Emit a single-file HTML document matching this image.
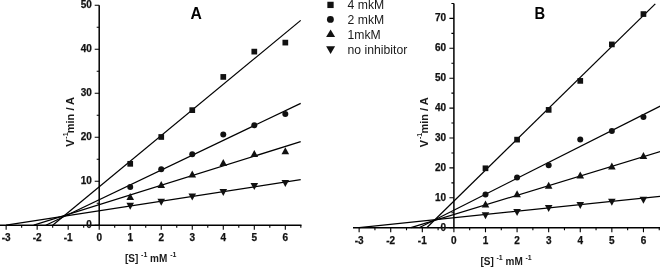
<!DOCTYPE html>
<html><head><meta charset="utf-8"><style>
html,body{margin:0;padding:0;background:#fff;}
body{width:660px;height:267px;overflow:hidden;}
svg{display:block;filter:grayscale(1);}
text{font-family:"Liberation Sans", sans-serif;fill:#000;}
.tl{font-size:10px;font-weight:bold;fill:#111;stroke:#111;stroke-width:0.25px;}
.ti{font-size:15.7px;font-weight:bold;}
.yl{font-size:11px;font-weight:bold;fill:#1a1a1a;}
.xl{font-size:10px;font-weight:bold;fill:#1a1a1a;}
.sup{font-size:7px;}
.lg{font-size:12.2px;fill:#1a1a1a;}
</style></head><body>
<svg width="660" height="267" viewBox="0 0 660 267">
<g fill="#111">
<path d="M0 225.2H301.5" stroke="#000" stroke-width="1.5" fill="none"/>
<path d="M99.2 5.2V225.2" stroke="#000" stroke-width="1.5" fill="none"/>
<path d="M6.14 225.2v4.5M37.16 225.2v4.5M68.18 225.2v4.5M99.2 225.2v4.5M130.22 225.2v4.5M161.24 225.2v4.5M192.26 225.2v4.5M223.28 225.2v4.5M254.3 225.2v4.5M285.32 225.2v4.5M21.65 225.2v2.5M52.67 225.2v2.5M83.69 225.2v2.5M114.71 225.2v2.5M145.73 225.2v2.5M176.75 225.2v2.5M207.77 225.2v2.5M238.79 225.2v2.5M269.81 225.2v2.5M300.83 225.2v2.5M99.2 225.2h-4.5M99.2 181.2h-4.5M99.2 137.2h-4.5M99.2 93.2h-4.5M99.2 49.2h-4.5M99.2 5.2h-4.5M99.2 203.2h-2.5M99.2 159.2h-2.5M99.2 115.2h-2.5M99.2 71.2h-2.5M99.2 27.2h-2.5" stroke="#000" stroke-width="1.1" fill="none"/>
<line x1="52.67" y1="225.2" x2="300.71" y2="20.38" stroke="#000" stroke-width="1.25"/>
<line x1="45.85" y1="225.2" x2="300.71" y2="103.32" stroke="#000" stroke-width="1.25"/>
<line x1="33.75" y1="225.2" x2="300.71" y2="141.6" stroke="#000" stroke-width="1.25"/>
<line x1="6.14" y1="225.2" x2="300.71" y2="179.7" stroke="#000" stroke-width="1.25"/>
<rect x="127.37" y="160.97" width="5.7" height="5.7"/>
<rect x="158.39" y="134.13" width="5.7" height="5.7"/>
<rect x="189.41" y="107.29" width="5.7" height="5.7"/>
<rect x="220.43" y="74.07" width="5.7" height="5.7"/>
<rect x="251.45" y="48.77" width="5.7" height="5.7"/>
<rect x="282.47" y="39.75" width="5.7" height="5.7"/>
<circle cx="130.22" cy="186.92" r="3"/>
<circle cx="161.24" cy="169.32" r="3"/>
<circle cx="192.26" cy="154.36" r="3"/>
<circle cx="223.28" cy="134.56" r="3"/>
<circle cx="254.3" cy="125.32" r="3"/>
<circle cx="285.32" cy="113.88" r="3"/>
<path d="M130.22 193.1L134.02 200.1L126.42 200.1Z"/>
<path d="M161.24 180.91L165.04 187.91L157.44 187.91Z"/>
<path d="M192.26 170.4L196.06 177.4L188.46 177.4Z"/>
<path d="M223.28 159L227.08 166L219.48 166Z"/>
<path d="M254.3 149.98L258.1 156.98L250.5 156.98Z"/>
<path d="M285.32 147.34L289.12 154.34L281.52 154.34Z"/>
<path d="M130.22 209.78L134.02 202.78L126.42 202.78Z"/>
<path d="M161.24 205.82L165.04 198.82L157.44 198.82Z"/>
<path d="M192.26 200.54L196.06 193.54L188.46 193.54Z"/>
<path d="M223.28 196.01L227.08 189.01L219.48 189.01Z"/>
<path d="M254.3 189.98L258.1 182.98L250.5 182.98Z"/>
<path d="M285.32 186.9L289.12 179.9L281.52 179.9Z"/>
<text x="6.14" y="241.3" text-anchor="middle" class="tl">-3</text>
<text x="37.16" y="241.3" text-anchor="middle" class="tl">-2</text>
<text x="68.18" y="241.3" text-anchor="middle" class="tl">-1</text>
<text x="99.2" y="241.3" text-anchor="middle" class="tl">0</text>
<text x="130.22" y="241.3" text-anchor="middle" class="tl">1</text>
<text x="161.24" y="241.3" text-anchor="middle" class="tl">2</text>
<text x="192.26" y="241.3" text-anchor="middle" class="tl">3</text>
<text x="223.28" y="241.3" text-anchor="middle" class="tl">4</text>
<text x="254.3" y="241.3" text-anchor="middle" class="tl">5</text>
<text x="285.32" y="241.3" text-anchor="middle" class="tl">6</text>
<text x="91.9" y="228.1" text-anchor="end" class="tl">0</text>
<text x="91.9" y="184.1" text-anchor="end" class="tl">10</text>
<text x="91.9" y="140.1" text-anchor="end" class="tl">20</text>
<text x="91.9" y="96.1" text-anchor="end" class="tl">30</text>
<text x="91.9" y="52.1" text-anchor="end" class="tl">40</text>
<text x="91.9" y="8.1" text-anchor="end" class="tl">50</text>
<text transform="translate(190.6 18.6) scale(1 1)" class="ti">A</text>
<text transform="translate(74.3 146.8) rotate(-90)" class="yl">V<tspan class="sup" dx="0.8" dy="-6">-1</tspan><tspan dx="-0.8" dy="6">min / A</tspan></text>
<text x="125" y="262.3" class="xl">[S] <tspan class="sup" dy="-5">-1</tspan><tspan dy="5"> mM </tspan><tspan class="sup" dy="-5">-1</tspan></text>
<path d="M353 227.7H660" stroke="#000" stroke-width="1.5" fill="none"/>
<path d="M453.9 3.45V227.7" stroke="#000" stroke-width="1.5" fill="none"/>
<path d="M359.13 227.7v4.5M390.72 227.7v4.5M422.31 227.7v4.5M453.9 227.7v4.5M485.49 227.7v4.5M517.08 227.7v4.5M548.67 227.7v4.5M580.26 227.7v4.5M611.85 227.7v4.5M643.44 227.7v4.5M374.92 227.7v2.5M406.51 227.7v2.5M438.1 227.7v2.5M469.69 227.7v2.5M501.28 227.7v2.5M532.88 227.7v2.5M564.46 227.7v2.5M596.05 227.7v2.5M627.64 227.7v2.5M659.24 227.7v2.5M453.9 227.7h-4.5M453.9 197.8h-4.5M453.9 167.9h-4.5M453.9 138h-4.5M453.9 108.1h-4.5M453.9 78.2h-4.5M453.9 48.3h-4.5M453.9 18.4h-4.5M453.9 212.75h-2.5M453.9 182.85h-2.5M453.9 152.95h-2.5M453.9 123.05h-2.5M453.9 93.15h-2.5M453.9 63.25h-2.5M453.9 33.35h-2.5M453.9 3.45h-2.5" stroke="#000" stroke-width="1.1" fill="none"/>
<line x1="426.73" y1="227.7" x2="655.29" y2="3.9" stroke="#000" stroke-width="1.25"/>
<line x1="419.15" y1="227.7" x2="660.5" y2="106.01" stroke="#000" stroke-width="1.25"/>
<line x1="410.94" y1="227.7" x2="660.5" y2="151.45" stroke="#000" stroke-width="1.25"/>
<line x1="359.13" y1="227.7" x2="660.5" y2="196.33" stroke="#000" stroke-width="1.25"/>
<rect x="482.64" y="165.44" width="5.7" height="5.7"/>
<rect x="514.23" y="136.79" width="5.7" height="5.7"/>
<rect x="545.82" y="107.04" width="5.7" height="5.7"/>
<rect x="577.41" y="78.04" width="5.7" height="5.7"/>
<rect x="609" y="41.56" width="5.7" height="5.7"/>
<rect x="640.59" y="11.21" width="5.7" height="5.7"/>
<circle cx="485.49" cy="194.39" r="3"/>
<circle cx="517.08" cy="177.47" r="3"/>
<circle cx="548.67" cy="165.21" r="3"/>
<circle cx="580.26" cy="139.58" r="3"/>
<circle cx="611.85" cy="131.12" r="3"/>
<circle cx="643.44" cy="116.89" r="3"/>
<path d="M485.49 200.49L489.29 207.49L481.69 207.49Z"/>
<path d="M517.08 190.2L520.88 197.2L513.28 197.2Z"/>
<path d="M548.67 181.74L552.47 188.74L544.87 188.74Z"/>
<path d="M580.26 171.58L584.06 178.58L576.46 178.58Z"/>
<path d="M611.85 162.61L615.65 169.61L608.05 169.61Z"/>
<path d="M643.44 151.99L647.24 158.99L639.64 158.99Z"/>
<path d="M485.49 219.3L489.29 212.3L481.69 212.3Z"/>
<path d="M517.08 216.01L520.88 209.01L513.28 209.01Z"/>
<path d="M548.67 211.91L552.47 204.91L544.87 204.91Z"/>
<path d="M580.26 209.07L584.06 202.07L576.46 202.07Z"/>
<path d="M611.85 205.78L615.65 198.78L608.05 198.78Z"/>
<path d="M643.44 203.69L647.24 196.69L639.64 196.69Z"/>
<text x="359.13" y="244.1" text-anchor="middle" class="tl">-3</text>
<text x="390.72" y="244.1" text-anchor="middle" class="tl">-2</text>
<text x="422.31" y="244.1" text-anchor="middle" class="tl">-1</text>
<text x="453.9" y="244.1" text-anchor="middle" class="tl">0</text>
<text x="485.49" y="244.1" text-anchor="middle" class="tl">1</text>
<text x="517.08" y="244.1" text-anchor="middle" class="tl">2</text>
<text x="548.67" y="244.1" text-anchor="middle" class="tl">3</text>
<text x="580.26" y="244.1" text-anchor="middle" class="tl">4</text>
<text x="611.85" y="244.1" text-anchor="middle" class="tl">5</text>
<text x="643.44" y="244.1" text-anchor="middle" class="tl">6</text>
<text x="446" y="230.6" text-anchor="end" class="tl">0</text>
<text x="446" y="200.7" text-anchor="end" class="tl">10</text>
<text x="446" y="170.8" text-anchor="end" class="tl">20</text>
<text x="446" y="140.9" text-anchor="end" class="tl">30</text>
<text x="446" y="111" text-anchor="end" class="tl">40</text>
<text x="446" y="81.1" text-anchor="end" class="tl">50</text>
<text x="446" y="51.2" text-anchor="end" class="tl">60</text>
<text x="446" y="21.3" text-anchor="end" class="tl">70</text>
<text transform="translate(534.6 18.6) scale(0.94 1)" class="ti">B</text>
<text transform="translate(427.6 147.2) rotate(-90)" class="yl">V<tspan class="sup" dx="0.8" dy="-6">-1</tspan><tspan dx="-0.8" dy="6">min / A</tspan></text>
<text x="480.4" y="265.4" class="xl">[S] <tspan class="sup" dy="-5">-1</tspan><tspan dy="5"> mM </tspan><tspan class="sup" dy="-5">-1</tspan></text>
<rect x="327.35" y="1.75" width="6.3" height="6.3"/>
<text x="347.6" y="9" class="lg">4 mkM</text>
<circle cx="330.4" cy="19.4" r="3.45"/>
<text x="347.6" y="24" class="lg">2 mkM</text>
<path d="M330.6 29.4L335.1 37L326.1 37Z"/>
<text x="347.6" y="39" class="lg">1mkM</text>
<path d="M330.6 53.9L335.1 46.3L326.1 46.3Z"/>
<text x="347.6" y="53.5" class="lg">no inhibitor</text>
</g>
</svg>
</body></html>
